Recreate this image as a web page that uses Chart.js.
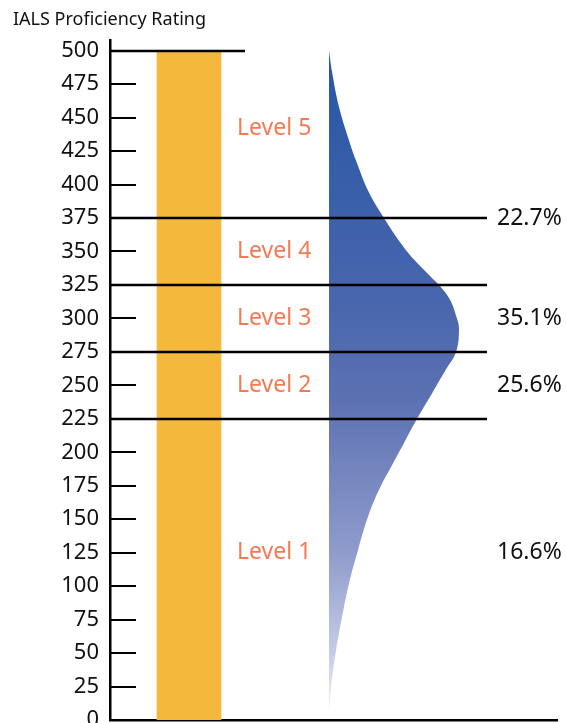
<!DOCTYPE html>
<html>
<head>
<meta charset="utf-8">
<script src="https://cdn.jsdelivr.net/npm/chart.js@4.4.1/dist/chart.umd.min.js"></script>
<style>
html,body{margin:0;padding:0;background:#fff}
canvas{display:block}
</style>
</head>
<body>
<canvas id="chart" width="566" height="723"></canvas>
<script>
// data
const yTicks = [0,25,50,75,100,125,150,175,200,225,250,275,300,325,350,375,400,425,450,475,500];
const scaleTop = 500;
const levelNames = ['Level 1','Level 2','Level 3','Level 4','Level 5'];
const levelLabelY = [125, 250, 300, 350, 442];
const levelCuts = [225, 275, 325, 375];
const shareLabels = ['16.6%','25.6%','35.1%','22.7%'];
const shareLabelY = [125, 250, 300, 375];
// score distribution curve (score -> relative width)
const distScores = [500, 483, 458, 433, 418, 394, 375, 356, 344, 331, 325, 314, 301, 292, 275, 262, 244, 225, 207, 189, 172, 154, 127, 102, 77, 52, 27, 5];
const distWidths = [0, 3.3, 10, 20, 27, 40, 55, 72, 85, 102, 110, 121, 127.5, 130, 127, 117, 103, 88, 75, 62, 50, 40, 29, 20, 13, 7, 2.4, 0];

// layout (horizontal units = pixels across the plot)
const PLOT_W = 447;
const BAR_POS = 79;
const LEVEL_TEXT_X = 127;
const SHARE_TEXT_X = 387;
const CUT_END = 377;
const TICK_LEN = 26;
const TOP_TICK_END = 135;
const DIST_ORIGIN = 219;

const FONT = '"Noto Sans", Lato, sans-serif';

function distFill(c) {
    const ch = c.chart;
    if (!ch.chartArea) return 'rgba(0,0,0,0)';
    const y = ch.scales.y;
    const g = ch.ctx.createLinearGradient(0, y.getPixelForValue(scaleTop), 0, y.getPixelForValue(0));
    g.addColorStop(0, '#2656a5');
    g.addColorStop(0.37, '#4866ad');
    g.addColorStop(0.52, '#5c71b2');
    g.addColorStop(0.75, '#8f9bcb');
    g.addColorStop(0.9, '#c6cce7');
    g.addColorStop(1, '#f6f7fc');
    return g;
}

const decor = {
    id: 'decor',
    afterDatasetsDraw(chart) {
        const {ctx, chartArea: a, scales: {x, y}} = chart;
        ctx.save();
        ctx.strokeStyle = '#000';
        ctx.lineCap = 'butt';
        yTicks.forEach(v => {
            if (v === 0) return;
            const py = Math.round(y.getPixelForValue(v));
            ctx.lineWidth = v === scaleTop ? 2.5 : 2;
            const end = v === scaleTop ? TOP_TICK_END : TICK_LEN;
            ctx.beginPath();
            ctx.moveTo(a.left, py);
            ctx.lineTo(x.getPixelForValue(end), py);
            ctx.stroke();
        });
        ctx.lineWidth = 2.5;
        levelCuts.forEach(v => {
            const py = Math.round(y.getPixelForValue(v));
            ctx.beginPath();
            ctx.moveTo(a.left, py);
            ctx.lineTo(x.getPixelForValue(CUT_END), py);
            ctx.stroke();
        });
        ctx.font = '23px ' + FONT;
        ctx.textBaseline = 'middle';
        ctx.textAlign = 'left';
        ctx.fillStyle = '#f47a56';
        levelNames.forEach((t, i) => {
            ctx.fillText(t, x.getPixelForValue(LEVEL_TEXT_X), y.getPixelForValue(levelLabelY[i]));
        });
        ctx.fillStyle = '#111';
        shareLabels.forEach((t, i) => {
            ctx.fillText(t, x.getPixelForValue(SHARE_TEXT_X), y.getPixelForValue(shareLabelY[i]));
        });
        ctx.restore();
    },
    afterDraw(chart) {
        const ctx = chart.ctx;
        ctx.save();
        ctx.font = '18px ' + FONT;
        ctx.fillStyle = '#111';
        ctx.textBaseline = 'middle';
        ctx.fillText('IALS Proficiency Rating', 13, 20);
        ctx.restore();
    }
};

new Chart(document.getElementById('chart'), {
    type: 'bar',
    data: {
        datasets: [
            {
                type: 'bar',
                data: [{x: BAR_POS, y: scaleTop}],
                backgroundColor: '#f3b83c',
                barThickness: 64,
                grouped: false,
                xAxisID: 'x', yAxisID: 'y'
            },
            {
                type: 'line',
                indexAxis: 'y',
                data: distScores.map((s, i) => ({x: distWidths[i], y: s})),
                borderWidth: 0,
                pointRadius: 0,
                tension: 0.4,
                fill: 'origin',
                backgroundColor: distFill,
                xAxisID: 'xd', yAxisID: 'y'
            }
        ]
    },
    options: {
        responsive: false,
        animation: false,
        devicePixelRatio: 1,
        layout: { padding: { top: 40, bottom: 3, left: 0, right: 9 } },
        plugins: { legend: { display: false }, tooltip: { enabled: false } },
        scales: {
            x: {
                type: 'linear', min: 0, max: PLOT_W, offset: false,
                ticks: { display: false },
                grid: { display: false, drawTicks: false },
                border: { display: true, color: '#000', width: 2.5 },
                afterFit: s => { s.height = 0; s.paddingLeft = 0; s.paddingRight = 0; }
            },
            xd: {
                type: 'linear', display: false, position: 'bottom', offset: false,
                min: -DIST_ORIGIN, max: PLOT_W - DIST_ORIGIN
            },
            y: {
                type: 'linear', position: 'left', min: 0, max: 508,
                afterBuildTicks: s => { s.ticks = yTicks.map(v => ({value: v})); },
                afterFit: s => { s.width = 110; s.paddingTop = 0; s.paddingBottom = 0; },
                ticks: { color: '#111', padding: 11, font: { family: FONT, size: 22 } },
                grid: { display: false, drawTicks: false },
                border: { display: true, color: '#000', width: 2.5 }
            }
        }
    },
    plugins: [decor]
});
</script>
</body>
</html>
